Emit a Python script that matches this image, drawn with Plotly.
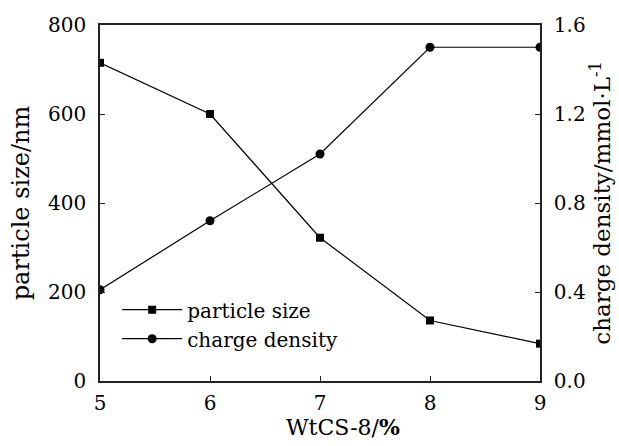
import plotly.graph_objects as go

wt = [5, 6, 7, 8, 9]
particle_size = [715, 600, 322, 136, 84]
charge_density = [0.41, 0.72, 1.02, 1.50, 1.50]

x_ticks = [5, 6, 7, 8, 9]
y1_ticks = [0, 200, 400, 600, 800]
y2_ticks = [0, 0.4, 0.8, 1.2, 1.6]
y2_ticktext = ["0.0", "0.4", "0.8", "1.2", "1.6"]

font = dict(family="DejaVu Serif", color="black")

fig = go.Figure()
fig.add_trace(go.Scatter(x=wt, y=particle_size, name="particle size", mode="lines+markers",
                         line=dict(color="black", width=1.2),
                         marker=dict(symbol="square", size=8, color="black")))
fig.add_trace(go.Scatter(x=wt, y=charge_density, name="charge density", mode="lines+markers",
                         yaxis="y2",
                         line=dict(color="black", width=1.2),
                         marker=dict(symbol="circle", size=9, color="black")))

axis_common = dict(showline=True, linecolor="#222", linewidth=1.6, ticks="inside",
                   ticklen=5, tickcolor="#222", tickwidth=1.2, showgrid=False, zeroline=False,
                   automargin=False,
                   tickfont=dict(size=20, **font))

fig.update_layout(
    width=619, height=446,
    margin=dict(l=100, r=79, t=25, b=65),
    plot_bgcolor="white", paper_bgcolor="white",
    font=dict(size=20, **font),
    showlegend=True,
    legend=dict(x=0.039, y=0.255, xanchor="left", yanchor="top", bgcolor="rgba(0,0,0,0)",
                font=dict(size=20, **font), tracegroupgap=0, itemwidth=60),
    xaxis=dict(range=[5, 9], tickvals=x_ticks, mirror=True, ticklabelstandoff=3, **axis_common),
    yaxis=dict(range=[0, 800], tickvals=y1_ticks, ticklabelstandoff=8,
               title=dict(text="particle size/nm", font=dict(size=24, **font), standoff=12),
               **axis_common),
    yaxis2=dict(range=[0, 1.6], tickvals=y2_ticks, ticktext=y2_ticktext,
                overlaying="y", side="right", ticklabelstandoff=8,
                title=dict(text="\u00a0" * 5 + "charge density/mmol·L<sup>-1</sup>",
                           font=dict(size=23, **font), standoff=8),
                **axis_common),
    annotations=[dict(text="WtCS-8/<b>%</b>", xref="paper", yref="paper", x=0.552, y=-0.128,
                      xanchor="center", yanchor="middle", showarrow=False,
                      font=dict(size=22, **font))],
)

fig.write_html("out.html")
